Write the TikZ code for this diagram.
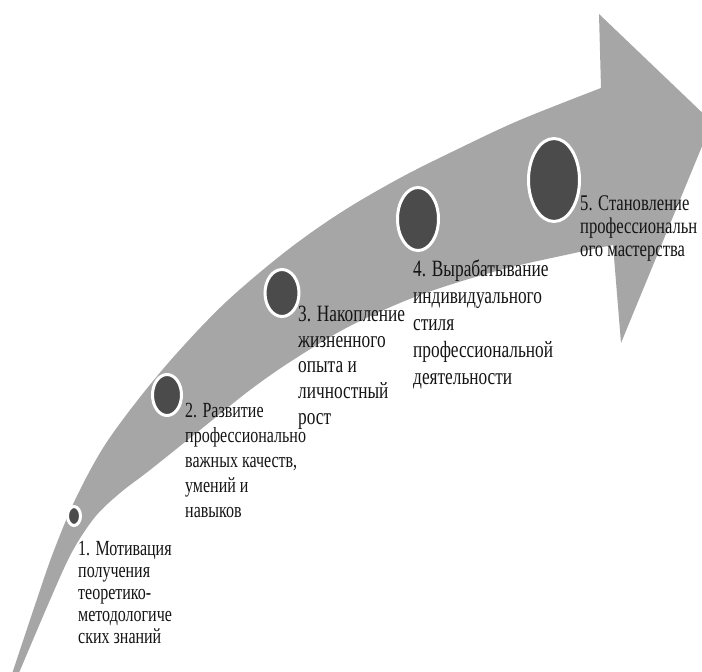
\documentclass[tikz,border=0pt]{standalone}
\usepackage{fontspec}
\setmainfont{Liberation Serif}
\usepackage{graphicx}
\definecolor{arrowgray}{HTML}{A6A6A6}
\definecolor{dotgray}{HTML}{4B4B4B}
\definecolor{txt}{HTML}{141414}
\newcommand{\lbltext}[3]{\scalebox{1}[1.35]{\fontsize{#1}{#2}\selectfont\begin{tabular}{@{}l@{}}#3\end{tabular}}}
\tikzset{
  stagedot/.style={fill=dotgray, draw=white, line width=3pt},
  lbl/.style={anchor=north west, inner sep=0pt, text=txt}
}
\begin{document}
\begin{tikzpicture}[x=1pt,y=-1pt]
\useasboundingbox (0,0) rectangle (702,672);
\clip (0,0) rectangle (702,672);
% big curved arrow
\fill[arrowgray]
  plot[smooth, tension=0.55] coordinates {(10,680) (36,602) (53,553) (75,500) (103,448) (137,401) (177,353) (226,302) (285,252) (340,213) (400,178) (460,148) (520,120) (601,88)}
  -- (599,14) -- (712,122) -- (621,343) -- (613,245)
  -- plot[smooth, tension=0.55] coordinates {(613,245) (570,254) (500,270) (420,295) (350,326) (293,360) (250,390) (200,430) (150,470) (120,493) (95,517) (72,552) (50,600) (16,680)}
  -- cycle;
% stage dots
\path[stagedot] (74,516) ellipse [x radius=6.5, y radius=9.5];
\path[stagedot] (167,395) ellipse [x radius=14.5, y radius=20.5];
\path[stagedot] (282,293) ellipse [x radius=17, y radius=23.5];
\path[stagedot] (418,219) ellipse [x radius=20.5, y radius=31.5];
\path[stagedot] (554,180) ellipse [x radius=25.5, y radius=41.5];
% labels
\node[lbl] (l1) at (78,540) {\lbltext{16}{16.3}{1. Мотивация\\получения\\теоретико-\\методологиче\\ских знаний}};
\node[lbl] (l2) at (185,400) {\lbltext{16}{18.5}{2. Развитие\\профессионально\\важных качеств,\\умений и\\навыков}};
\node[lbl] (l3) at (298,303) {\lbltext{17.3}{19.1}{3. Накопление\\жизненного\\опыта и\\личностный\\рост}};
\node[lbl] (l4) at (413,257) {\lbltext{17.3}{20}{4. Вырабатывание\\индивидуального\\стиля\\профессиональной\\деятельности}};
\node[lbl] (l5) at (580,194) {\lbltext{16.6}{17}{5. Становление\\профессиональн\\ого мастерства}};
\end{tikzpicture}
\end{document}
